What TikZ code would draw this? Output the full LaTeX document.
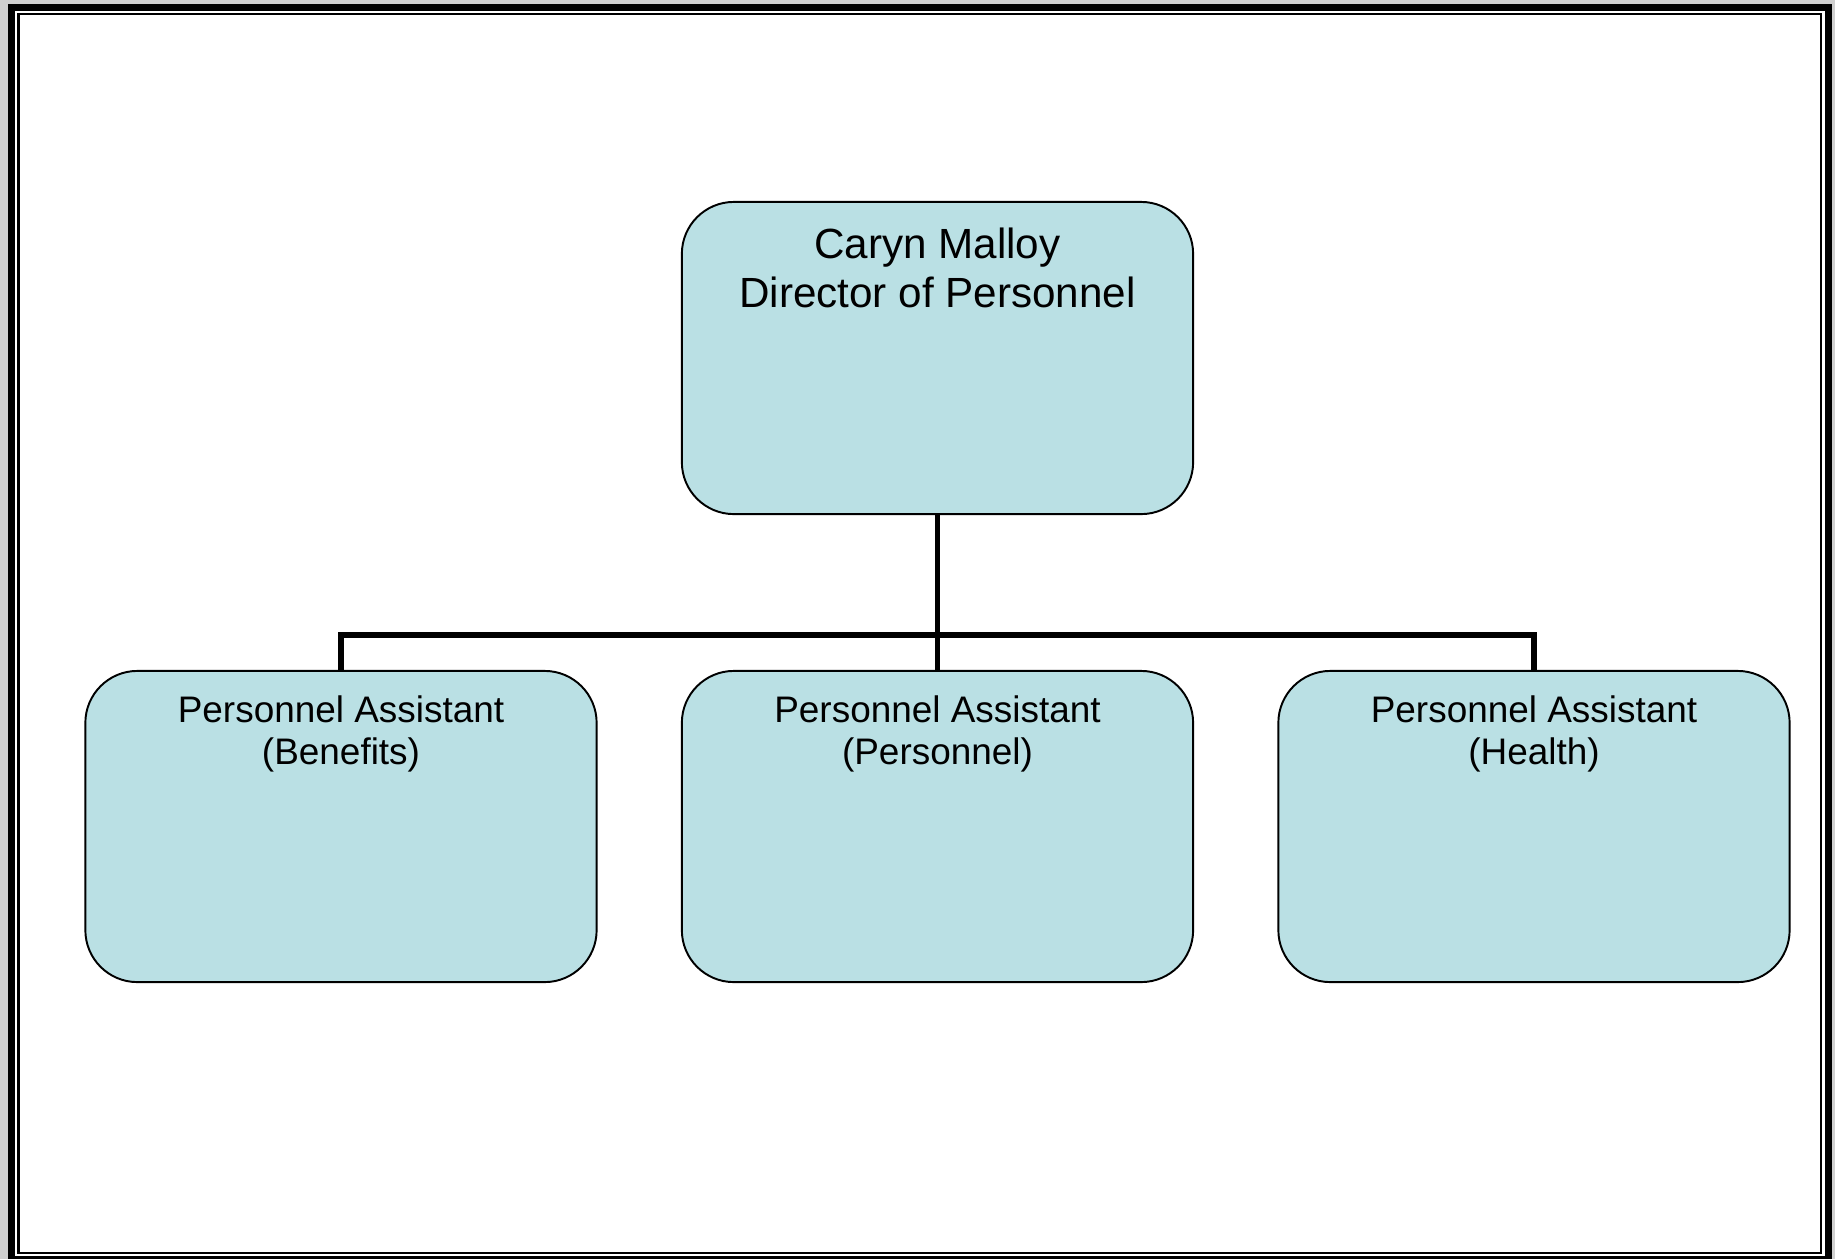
\documentclass[tikz,border=0pt]{standalone}
\usepackage{fontspec}
\setmainfont{Liberation Sans}
\definecolor{boxfill}{RGB}{186,224,228}
\definecolor{pagegray}{RGB}{208,208,208}
\begin{document}
\begin{tikzpicture}[x=0.01cm, y=-0.01cm,
	orgbox/.style={shape=rectangle, draw, fill=boxfill, line width=0.55pt, rounded corners=0.52cm, minimum width=5.11cm, minimum height=3.11cm, inner sep=0pt},
	orgtext/.style={anchor=north, align=center, inner sep=0pt},
	orgline/.style={line width=1.7pt}]
	% Frame:
	\useasboundingbox (0,0) rectangle (1835,1259);
	\fill[pagegray] (0,0) rectangle (1835,1259);
	\fill[black] (8,4) rectangle (1832,1259);
	\fill[white] (15,11) rectangle (1825,1256);
	\draw[line width=0.7pt] (18.3,13.9) rectangle (1821.2,1253);
	% Paths, nodes and wires:
	\node[orgbox, minimum height=3.12cm] (dir) at (937.5, 358){};
	\node[orgtext, font=\fontsize{12}{13.9}\selectfont] (dirtext) at ([yshift=-0.265cm]dir.north){Caryn Malloy\\Director of Personnel};
	\node[orgbox] (ben) at (341, 826.5){};
	\node[orgtext, font=\fontsize{10.5}{11.8}\selectfont] (bentext) at ([yshift=-0.255cm]ben.north){Personnel Assistant\\(Benefits)};
	\node[orgbox] (pers) at (937.5, 826.5){};
	\node[orgtext, font=\fontsize{10.5}{11.8}\selectfont] (perstext) at ([yshift=-0.255cm]pers.north){Personnel Assistant\\(Personnel)};
	\node[orgbox] (hlth) at (1534, 826.5){};
	\node[orgtext, font=\fontsize{10.5}{11.8}\selectfont] (hlthtext) at ([yshift=-0.255cm]hlth.north){Personnel Assistant\\(Health)};
	\coordinate (hub) at (dir.south |- 0,635);
	\draw[orgline] (dir.south) -- (hub);
	\draw[orgline] (ben.north) |- (hub) -| (hlth.north);
	\draw[orgline] (hub) -- (pers.north);
\end{tikzpicture}
\end{document}
